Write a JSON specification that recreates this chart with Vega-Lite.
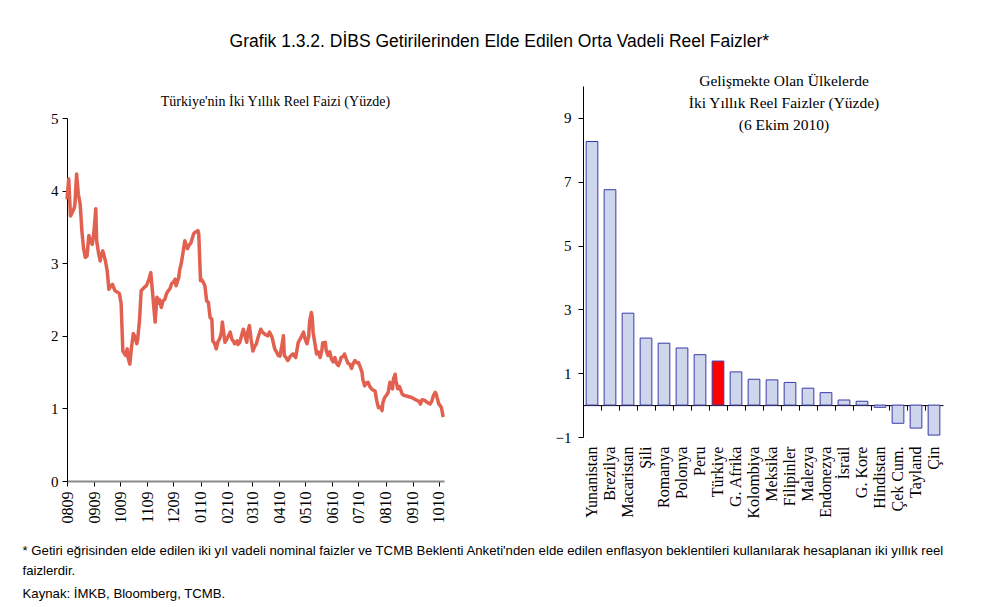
{
  "$schema": "https://vega.github.io/schema/vega-lite/v6.json",
  "background": "white",
  "padding": {"left": 22, "top": 33, "right": 10, "bottom": 5},
  "title": {
    "text": "Grafik 1.3.2. DİBS Getirilerinden Elde Edilen Orta Vadeli Reel Faizler*",
    "font": "Liberation Sans",
    "fontSize": 17.5,
    "fontWeight": "normal",
    "color": "black",
    "anchor": "middle",
    "dx": 16,
    "offset": 23
  },
  "config": {
    "view": {"stroke": null},
    "axis": {
      "labelFont": "Liberation Serif",
      "labelColor": "black",
      "domainColor": "black",
      "tickColor": "black",
      "grid": false,
      "title": null
    },
    "title": {"font": "Liberation Serif", "fontWeight": "normal", "color": "black"}
  },
  "vconcat": [
    {
      "title": {
        "text": [
          "* Getiri eğrisinden elde edilen iki yıl vadeli nominal faizler ve TCMB Beklenti Anketi'nden elde edilen enflasyon beklentileri kullanılarak hesaplanan iki yıllık reel",
          "faizlerdir."
        ],
        "subtitle": "Kaynak: İMKB, Bloomberg, TCMB.",
        "orient": "bottom",
        "anchor": "start",
        "font": "Liberation Sans",
        "fontSize": 13.2,
        "lineHeight": 20,
        "subtitleFont": "Liberation Sans",
        "subtitleFontSize": 13.2,
        "subtitleColor": "black",
        "subtitlePadding": 10,
        "dx": -28,
        "offset": 22
      },
      "bounds": "flush",
      "spacing": 139,
      "hconcat": [
        {
          "width": 377,
          "height": 395,
          "title": {
            "text": "Türkiye'nin İki Yıllık Reel Faizi (Yüzde)",
            "fontSize": 14,
            "dx": 20,
            "offset": -23
          },
          "data": {
            "values": [
              {"date": "2009-08-01", "rate": 3.88},
              {"date": "2009-08-03", "rate": 4.16},
              {"date": "2009-08-05", "rate": 3.65},
              {"date": "2009-08-07", "rate": 3.70},
              {"date": "2009-08-09", "rate": 3.75},
              {"date": "2009-08-10", "rate": 3.80},
              {"date": "2009-08-12", "rate": 4.23},
              {"date": "2009-08-14", "rate": 3.95},
              {"date": "2009-08-16", "rate": 3.82},
              {"date": "2009-08-17", "rate": 3.65},
              {"date": "2009-08-18", "rate": 3.45},
              {"date": "2009-08-20", "rate": 3.20},
              {"date": "2009-08-22", "rate": 3.08},
              {"date": "2009-08-24", "rate": 3.10},
              {"date": "2009-08-26", "rate": 3.38},
              {"date": "2009-08-28", "rate": 3.30},
              {"date": "2009-08-30", "rate": 3.26},
              {"date": "2009-09-01", "rate": 3.45},
              {"date": "2009-09-03", "rate": 3.75},
              {"date": "2009-09-04", "rate": 3.31},
              {"date": "2009-09-06", "rate": 3.15},
              {"date": "2009-09-08", "rate": 3.03},
              {"date": "2009-09-09", "rate": 3.10},
              {"date": "2009-09-11", "rate": 3.17},
              {"date": "2009-09-13", "rate": 3.08},
              {"date": "2009-09-14", "rate": 3.03},
              {"date": "2009-09-16", "rate": 2.90},
              {"date": "2009-09-18", "rate": 2.64},
              {"date": "2009-09-20", "rate": 2.68},
              {"date": "2009-09-22", "rate": 2.71},
              {"date": "2009-09-24", "rate": 2.65},
              {"date": "2009-09-25", "rate": 2.62},
              {"date": "2009-09-28", "rate": 2.60},
              {"date": "2009-09-30", "rate": 2.58},
              {"date": "2009-10-02", "rate": 2.45},
              {"date": "2009-10-04", "rate": 1.79},
              {"date": "2009-10-06", "rate": 1.75},
              {"date": "2009-10-07", "rate": 1.73},
              {"date": "2009-10-09", "rate": 1.82},
              {"date": "2009-10-10", "rate": 1.70},
              {"date": "2009-10-12", "rate": 1.61},
              {"date": "2009-10-14", "rate": 1.85},
              {"date": "2009-10-16", "rate": 2.03},
              {"date": "2009-10-18", "rate": 1.98},
              {"date": "2009-10-20", "rate": 1.89},
              {"date": "2009-10-21", "rate": 1.95},
              {"date": "2009-10-23", "rate": 2.20},
              {"date": "2009-10-25", "rate": 2.62},
              {"date": "2009-10-28", "rate": 2.66},
              {"date": "2009-10-31", "rate": 2.69},
              {"date": "2009-11-03", "rate": 2.78},
              {"date": "2009-11-05", "rate": 2.87},
              {"date": "2009-11-07", "rate": 2.60},
              {"date": "2009-11-10", "rate": 2.19},
              {"date": "2009-11-12", "rate": 2.53},
              {"date": "2009-11-14", "rate": 2.45},
              {"date": "2009-11-15", "rate": 2.50},
              {"date": "2009-11-17", "rate": 2.39},
              {"date": "2009-11-19", "rate": 2.48},
              {"date": "2009-11-21", "rate": 2.50},
              {"date": "2009-11-23", "rate": 2.58},
              {"date": "2009-11-25", "rate": 2.62},
              {"date": "2009-11-27", "rate": 2.65},
              {"date": "2009-11-29", "rate": 2.72},
              {"date": "2009-12-01", "rate": 2.74},
              {"date": "2009-12-03", "rate": 2.78},
              {"date": "2009-12-04", "rate": 2.69},
              {"date": "2009-12-07", "rate": 2.80},
              {"date": "2009-12-08", "rate": 2.90},
              {"date": "2009-12-10", "rate": 3.00},
              {"date": "2009-12-12", "rate": 3.15},
              {"date": "2009-12-14", "rate": 3.31},
              {"date": "2009-12-17", "rate": 3.20},
              {"date": "2009-12-19", "rate": 3.25},
              {"date": "2009-12-21", "rate": 3.28},
              {"date": "2009-12-24", "rate": 3.40},
              {"date": "2009-12-25", "rate": 3.42},
              {"date": "2009-12-28", "rate": 3.44},
              {"date": "2009-12-29", "rate": 3.45},
              {"date": "2009-12-30", "rate": 3.40},
              {"date": "2010-01-01", "rate": 2.76},
              {"date": "2010-01-02", "rate": 2.78},
              {"date": "2010-01-04", "rate": 2.74},
              {"date": "2010-01-06", "rate": 2.69},
              {"date": "2010-01-08", "rate": 2.48},
              {"date": "2010-01-10", "rate": 2.46},
              {"date": "2010-01-12", "rate": 2.25},
              {"date": "2010-01-14", "rate": 2.23},
              {"date": "2010-01-15", "rate": 1.93},
              {"date": "2010-01-17", "rate": 1.90},
              {"date": "2010-01-19", "rate": 1.82},
              {"date": "2010-01-21", "rate": 1.92},
              {"date": "2010-01-23", "rate": 1.96},
              {"date": "2010-01-25", "rate": 2.05},
              {"date": "2010-01-26", "rate": 2.19},
              {"date": "2010-01-28", "rate": 2.00},
              {"date": "2010-01-29", "rate": 1.91},
              {"date": "2010-01-31", "rate": 1.95},
              {"date": "2010-02-02", "rate": 2.00},
              {"date": "2010-02-04", "rate": 2.05},
              {"date": "2010-02-06", "rate": 1.95},
              {"date": "2010-02-08", "rate": 1.92},
              {"date": "2010-02-09", "rate": 1.89},
              {"date": "2010-02-12", "rate": 1.93},
              {"date": "2010-02-13", "rate": 1.88},
              {"date": "2010-02-15", "rate": 1.91},
              {"date": "2010-02-17", "rate": 2.00},
              {"date": "2010-02-19", "rate": 2.09},
              {"date": "2010-02-21", "rate": 2.00},
              {"date": "2010-02-23", "rate": 1.91},
              {"date": "2010-02-24", "rate": 2.05},
              {"date": "2010-02-26", "rate": 2.14},
              {"date": "2010-02-28", "rate": 1.95},
              {"date": "2010-03-02", "rate": 1.79},
              {"date": "2010-03-04", "rate": 1.85},
              {"date": "2010-03-06", "rate": 1.89},
              {"date": "2010-03-08", "rate": 1.98},
              {"date": "2010-03-11", "rate": 2.09},
              {"date": "2010-03-13", "rate": 2.05},
              {"date": "2010-03-16", "rate": 2.02},
              {"date": "2010-03-19", "rate": 2.00},
              {"date": "2010-03-21", "rate": 2.05},
              {"date": "2010-03-24", "rate": 1.98},
              {"date": "2010-03-27", "rate": 1.82},
              {"date": "2010-03-29", "rate": 1.78},
              {"date": "2010-03-31", "rate": 1.73},
              {"date": "2010-04-02", "rate": 1.72},
              {"date": "2010-04-04", "rate": 1.85},
              {"date": "2010-04-06", "rate": 2.00},
              {"date": "2010-04-07", "rate": 1.73},
              {"date": "2010-04-09", "rate": 1.70},
              {"date": "2010-04-11", "rate": 1.66},
              {"date": "2010-04-14", "rate": 1.72},
              {"date": "2010-04-17", "rate": 1.75},
              {"date": "2010-04-20", "rate": 1.70},
              {"date": "2010-04-23", "rate": 1.91},
              {"date": "2010-04-25", "rate": 1.95},
              {"date": "2010-04-29", "rate": 2.05},
              {"date": "2010-05-01", "rate": 1.95},
              {"date": "2010-05-03", "rate": 1.89},
              {"date": "2010-05-05", "rate": 2.00},
              {"date": "2010-05-06", "rate": 2.20},
              {"date": "2010-05-08", "rate": 2.32},
              {"date": "2010-05-09", "rate": 2.25},
              {"date": "2010-05-10", "rate": 2.05},
              {"date": "2010-05-12", "rate": 1.90},
              {"date": "2010-05-14", "rate": 1.75},
              {"date": "2010-05-16", "rate": 1.78},
              {"date": "2010-05-18", "rate": 1.70},
              {"date": "2010-05-20", "rate": 1.80},
              {"date": "2010-05-21", "rate": 1.90},
              {"date": "2010-05-24", "rate": 1.91},
              {"date": "2010-05-25", "rate": 1.80},
              {"date": "2010-05-27", "rate": 1.73},
              {"date": "2010-05-29", "rate": 1.78},
              {"date": "2010-05-31", "rate": 1.68},
              {"date": "2010-06-02", "rate": 1.64},
              {"date": "2010-06-04", "rate": 1.70},
              {"date": "2010-06-06", "rate": 1.62},
              {"date": "2010-06-08", "rate": 1.59},
              {"date": "2010-06-10", "rate": 1.65},
              {"date": "2010-06-11", "rate": 1.70},
              {"date": "2010-06-14", "rate": 1.72},
              {"date": "2010-06-15", "rate": 1.75},
              {"date": "2010-06-17", "rate": 1.68},
              {"date": "2010-06-19", "rate": 1.62},
              {"date": "2010-06-21", "rate": 1.61},
              {"date": "2010-06-23", "rate": 1.55},
              {"date": "2010-06-25", "rate": 1.62},
              {"date": "2010-06-27", "rate": 1.66},
              {"date": "2010-06-29", "rate": 1.63},
              {"date": "2010-07-01", "rate": 1.63},
              {"date": "2010-07-03", "rate": 1.57},
              {"date": "2010-07-05", "rate": 1.50},
              {"date": "2010-07-06", "rate": 1.40},
              {"date": "2010-07-08", "rate": 1.31},
              {"date": "2010-07-10", "rate": 1.35},
              {"date": "2010-07-12", "rate": 1.36},
              {"date": "2010-07-14", "rate": 1.30},
              {"date": "2010-07-16", "rate": 1.27},
              {"date": "2010-07-18", "rate": 1.25},
              {"date": "2010-07-20", "rate": 1.24},
              {"date": "2010-07-22", "rate": 1.10},
              {"date": "2010-07-24", "rate": 1.01},
              {"date": "2010-07-26", "rate": 1.02},
              {"date": "2010-07-28", "rate": 0.97},
              {"date": "2010-07-29", "rate": 1.08},
              {"date": "2010-07-31", "rate": 1.15},
              {"date": "2010-08-02", "rate": 1.18},
              {"date": "2010-08-04", "rate": 1.22},
              {"date": "2010-08-06", "rate": 1.36},
              {"date": "2010-08-07", "rate": 1.30},
              {"date": "2010-08-09", "rate": 1.27},
              {"date": "2010-08-10", "rate": 1.40},
              {"date": "2010-08-12", "rate": 1.47},
              {"date": "2010-08-13", "rate": 1.38},
              {"date": "2010-08-15", "rate": 1.27},
              {"date": "2010-08-17", "rate": 1.30},
              {"date": "2010-08-20", "rate": 1.20},
              {"date": "2010-08-22", "rate": 1.18},
              {"date": "2010-08-25", "rate": 1.17},
              {"date": "2010-08-28", "rate": 1.16},
              {"date": "2010-08-31", "rate": 1.15},
              {"date": "2010-09-03", "rate": 1.13},
              {"date": "2010-09-06", "rate": 1.11},
              {"date": "2010-09-08", "rate": 1.10},
              {"date": "2010-09-10", "rate": 1.06},
              {"date": "2010-09-12", "rate": 1.12},
              {"date": "2010-09-15", "rate": 1.11},
              {"date": "2010-09-18", "rate": 1.08},
              {"date": "2010-09-21", "rate": 1.06},
              {"date": "2010-09-23", "rate": 1.10},
              {"date": "2010-09-25", "rate": 1.18},
              {"date": "2010-09-27", "rate": 1.22},
              {"date": "2010-09-28", "rate": 1.20},
              {"date": "2010-10-01", "rate": 1.06},
              {"date": "2010-10-02", "rate": 1.05},
              {"date": "2010-10-04", "rate": 1.01},
              {"date": "2010-10-05", "rate": 0.95},
              {"date": "2010-10-06", "rate": 0.88}
            ]
          },
          "mark": {"type": "line", "color": "#E2604F", "strokeWidth": 3.5, "strokeJoin": "round"},
          "encoding": {
            "x": {
              "field": "date",
              "type": "temporal",
              "scale": {
                "type": "utc",
                "domain": [
                  {"year": 2009, "month": 8, "date": 1, "utc": true},
                  {"year": 2010, "month": 10, "date": 7, "utc": true}
                ]
              },
              "axis": {
                "format": "%m%y",
                "tickCount": {"interval": "month", "step": 1},
                "labelAngle": -90,
                "labelFont": "Liberation Serif",
                "labelFontSize": 16,
                "labelPadding": 5,
                "tickSize": 5,
                "domainColor": "#8a8a8a",
                "domainWidth": 2
              }
            },
            "y": {
              "field": "rate",
              "type": "quantitative",
              "scale": {"domain": [0, 5], "range": [395, 32], "nice": false},
              "axis": {"values": [0, 1, 2, 3, 4, 5], "labelFont": "Liberation Serif", "labelFontSize": 15, "tickSize": 5, "labelPadding": 4}
            }
          }
        },
        {
          "width": 360,
          "height": 351,
          "title": {
            "text": ["Gelişmekte Olan Ülkelerde", "İki Yıllık Reel Faizler (Yüzde)", "(6 Ekim 2010)"],
            "fontSize": 15.5,
            "lineHeight": 22,
            "dx": 21,
            "offset": -47
          },
          "data": {
            "values": [
              {"country": "Yunanistan", "rate": 8.26},
              {"country": "Brezilya", "rate": 6.75},
              {"country": "Macaristan", "rate": 2.88},
              {"country": "Şili", "rate": 2.10},
              {"country": "Romanya", "rate": 1.94},
              {"country": "Polonya", "rate": 1.79},
              {"country": "Peru", "rate": 1.58},
              {"country": "Türkiye", "rate": 1.38},
              {"country": "G. Afrika", "rate": 1.04},
              {"country": "Kolombiya", "rate": 0.81},
              {"country": "Meksika", "rate": 0.79},
              {"country": "Filipinler", "rate": 0.71},
              {"country": "Malezya", "rate": 0.53},
              {"country": "Endonezya", "rate": 0.39},
              {"country": "İsrail", "rate": 0.16},
              {"country": "G. Kore", "rate": 0.12},
              {"country": "Hindistan", "rate": -0.07},
              {"country": "Çek Cum.", "rate": -0.57},
              {"country": "Tayland", "rate": -0.72},
              {"country": "Çin", "rate": -0.94}
            ]
          },
          "mark": {"type": "bar", "width": {"band": 0.65}, "stroke": "#3A3AAA", "strokeWidth": 1},
          "encoding": {
            "x": {
              "field": "country",
              "type": "nominal",
              "sort": null,
              "scale": {"paddingInner": 0, "paddingOuter": 0},
              "axis": {
                "labelAngle": -90,
                "labelFont": "Liberation Serif",
                "labelFontSize": 16,
                "bandPosition": 0,
                "offset": -31.9,
                "tickSize": 5,
                "labelPadding": 36
              }
            },
            "y": {
              "field": "rate",
              "type": "quantitative",
              "scale": {"domain": [-1, 10], "nice": false},
              "axis": {"values": [-1, 1, 3, 5, 7, 9], "labelFont": "Liberation Serif", "labelFontSize": 15, "tickSize": 5, "labelPadding": 7}
            },
            "fill": {
              "condition": {"test": "datum.country === 'Türkiye'", "value": "#FF0000"},
              "value": "#CDD6EA"
            }
          }
        }
      ]
    }
  ]
}
